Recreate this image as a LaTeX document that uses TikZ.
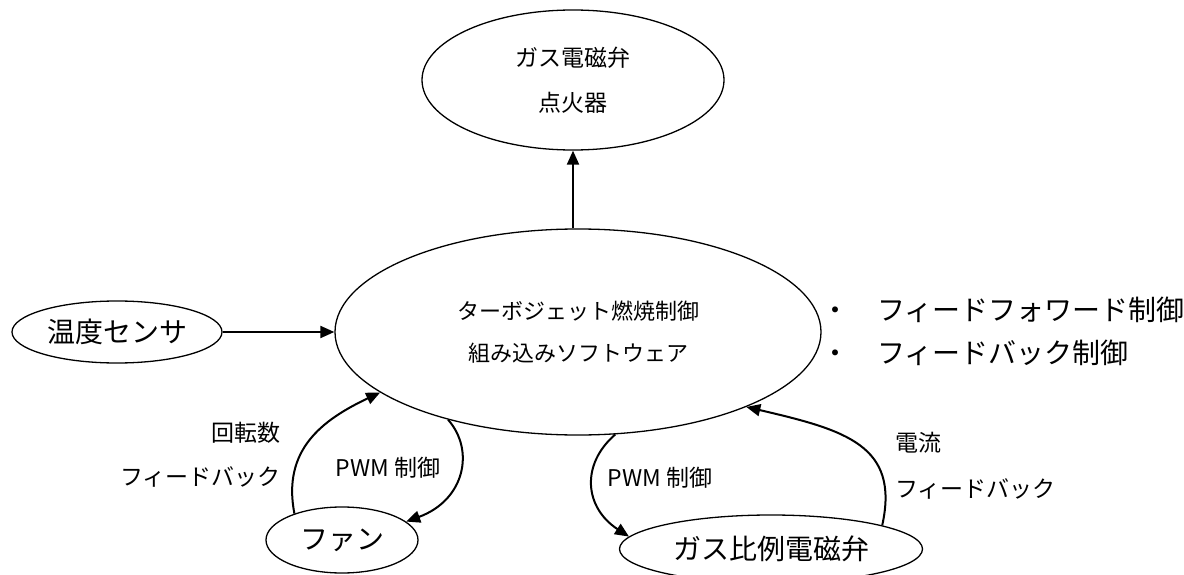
\documentclass[tikz,border=0pt]{standalone}
\usepackage{fontspec}
\setmainfont{Noto Sans CJK JP}
\usetikzlibrary{shapes.geometric,arrows.meta}
\begin{document}
\begin{tikzpicture}[x=1pt,y=-1pt,
  oval/.style={ellipse,draw,line width=1.3pt,inner sep=0pt,align=center},
  conn/.style={line width=2pt,-{Triangle[length=14pt,width=12pt]}},
  small/.style={font=\fontsize{23pt}{28pt}\selectfont,inner sep=0pt},
  big/.style={font=\fontsize{28pt}{34pt}\selectfont,inner sep=0pt}]
\useasboundingbox (0,0) rectangle (1184,575);
% nodes
\node[oval,minimum width=302pt,minimum height=140pt,font=\fontsize{23pt}{45pt}\selectfont] (top) at (573,80) {ガス電磁弁\\点火器};
\node[oval,minimum width=486pt,minimum height=206pt,font=\fontsize{22pt}{42pt}\selectfont] (main) at (578,332) {ターボジェット燃焼制御\\組み込みソフトウェア};
\node[oval,big,minimum width=210pt,minimum height=62pt] (temp) at (117,332) {温度センサ};
\node[oval,big,minimum width=152pt,minimum height=66pt] (fan) at (342,540) {ファン};
\node[oval,big,minimum width=303pt,minimum height=68pt] (gas) at (771,549) {ガス比例電磁弁};
% right text
\node[big,anchor=west] (ff) at (821,310) {・　フィードフォワード制御};
\node[big,anchor=west] (fb) at (821,353) {・　フィードバック制御};
% labels
\node[small,anchor=east] (rpm1) at (281,433) {回転数};
\node[small,anchor=east] (rpm2) at (281,477) {フィードバック};
\node[small] (pwm1) at (388,468) {PWM 制御};
\node[small] (pwm2) at (660,478) {PWM 制御};
\node[small,anchor=west] (cur1) at (895,443) {電流};
\node[small,anchor=west] (cur2) at (895,489) {フィードバック};
% connectors
\draw[conn] (main.north -| top.south) -- (top.south);
\draw[conn] (temp.east) -- (main.west);
\draw[conn] (fan.151) .. controls (282,450) and (322,420) .. (main.197);
\draw[conn] (main.214) .. controls (475,450) and (465,500) .. (fan.16);
\draw[conn] (main.290) .. controls (580,465) and (585,508) .. (gas.175);
\draw[conn] (gas.12) .. controls (900,445) and (845,430) .. (main.336);
\end{tikzpicture}
\end{document}
